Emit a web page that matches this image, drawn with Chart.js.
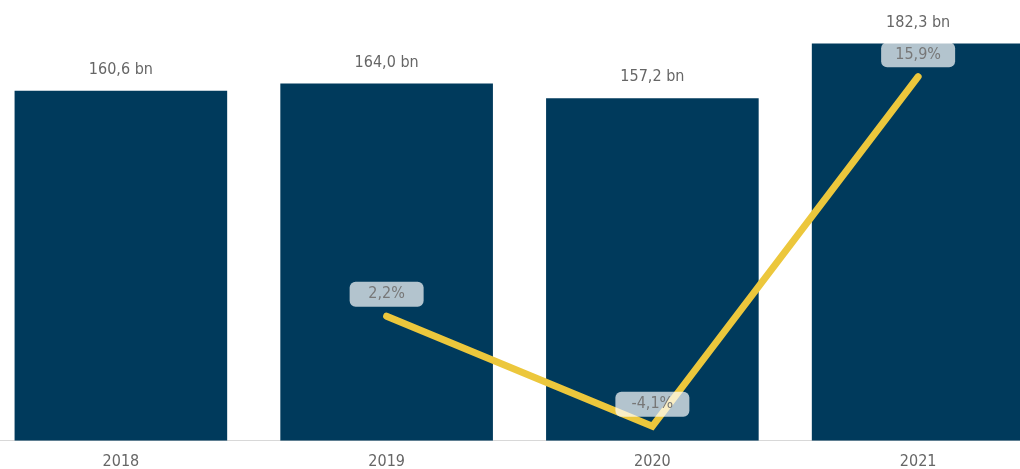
<!DOCTYPE html>
<html>
<head>
<meta charset="utf-8">
<script src="https://cdn.jsdelivr.net/npm/chart.js@4"></script>
<style>
    html, body { margin: 0; padding: 0; background: #fff; overflow: hidden; }
    #wrap { position: absolute; left: -12.5px; top: 0; width: 1063px; height: 480px; }
</style>
</head>
<body>
<div id="wrap"><canvas id="chart"></canvas></div>
<script>
// Dados do gráfico
const years = ['2018', '2019', '2020', '2021'];
const revenue = [160.6, 164.0, 157.2, 182.3];
const growth = [null, 2.2, -4.1, 15.9];

const FONT = '"DejaVu Sans Condensed", "DejaVu Sans", sans-serif';
const fmt = (v, d) => v.toFixed(d).replace('.', ',');

// Rótulos de valores (barras e linha)
const labelsPlugin = {
    id: 'labels',
    afterDatasetsDraw(chart) {
        const ctx = chart.ctx;
        ctx.save();
        ctx.font = '16px ' + FONT;
        ctx.textAlign = 'center';
        ctx.textBaseline = 'middle';

        chart.getDatasetMeta(0).data.forEach((bar, i) => {
            ctx.fillStyle = '#666666';
            ctx.fillText(fmt(revenue[i], 1) + ' bn', bar.x, bar.y - 21);
        });

        chart.getDatasetMeta(1).data.forEach((pt, i) => {
            if (growth[i] === null) return;
            const text = fmt(growth[i], 1) + '%';
            const w = 74, h = 25;
            const x = pt.x - w / 2, y = pt.y - 22 - h / 2;
            ctx.fillStyle = 'rgba(255,255,255,0.7)';
            ctx.beginPath();
            ctx.roundRect(x, y, w, h, 6);
            ctx.fill();
            ctx.fillStyle = '#777777';
            ctx.fillText(text, pt.x, pt.y - 22);
        });
        ctx.restore();
    }
};

new Chart(document.getElementById('chart'), {
    type: 'bar',
    data: {
        labels: years,
        datasets: [{
            type: 'bar',
            data: revenue,
            backgroundColor: '#003a5c',
            barPercentage: 0.8,
            categoryPercentage: 1,
            yAxisID: 'y',
            order: 1
        }, {
            type: 'line',
            data: growth,
            borderColor: '#ecc73c',
            borderWidth: 7,
            borderCapStyle: 'round',
            borderJoinStyle: 'miter',
            pointRadius: 0,
            tension: 0,
            yAxisID: 'y2',
            order: 0
        }]
    },
    options: {
        responsive: true,
        maintainAspectRatio: false,
        animation: false,
        layout: { padding: { top: 5, bottom: -2 } },
        plugins: {
            legend: { display: false },
            tooltip: { enabled: false }
        },
        scales: {
            x: {
                grid: { display: false, drawTicks: false, tickLength: 0 },
                border: { color: '#d8d8d8' },
                ticks: {
                    color: '#666666',
                    font: { family: FONT, size: 16 },
                    padding: 11
                }
            },
            y: { display: false, min: 0, max: 200 },
            y2: { display: false, min: -4.93, max: 20 }
        }
    },
    plugins: [labelsPlugin]
});
</script>
</body>
</html>
